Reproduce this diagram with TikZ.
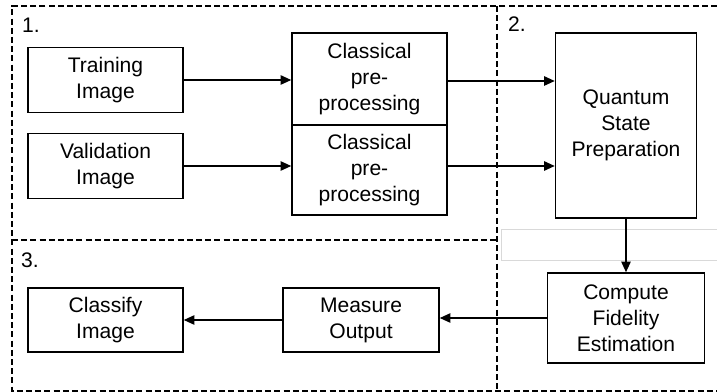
\documentclass[tikz,border=0pt]{standalone}
\usepackage{fontspec}
\setmainfont{Liberation Sans}
\usepackage{tikz}
\usetikzlibrary{arrows.meta}
\tikzset{
  blk/.style={draw, line width=1.1pt, align=center, inner sep=0pt},
  arr/.style={-{Triangle[length=8pt,width=7pt]}, line width=1.2pt},
  zone/.style={dashed, dash pattern=on 4.5pt off 2.4pt, line width=1.1pt}
}

\begin{document}
\begin{tikzpicture}[x=0.75pt,y=-0.75pt,font=\fontsize{15.8}{19.5}\selectfont]

\useasboundingbox (0,0) rectangle (717,392);

% dashed zones
\draw [zone] (717,6) -- (12,6) -- (12,391) -- (717,391);
\draw [zone] (497,6) -- (497,391);
\draw [zone] (12,240) -- (497,240);
\draw [gray!30, thin] (501,229) rectangle (720,260);

\node at (31,25) {1.};
\node at (517,24) {2.};
\node at (30,260) {3.};

% stage 1
\node [blk, minimum width=116.25pt, minimum height=48.75pt] (train) at (105.5,80) {Training\\Image};
\node [blk, minimum width=116.25pt, minimum height=48.75pt] (valid) at (105.5,166) {Validation\\Image};
\node [blk, minimum width=116.25pt, minimum height=69pt] (pre1) at (369.5,79) {Classical\\pre-\\processing};
\node [blk, minimum width=116.25pt, minimum height=67.5pt] (pre2) at (369.5,170) {Classical\\pre-\\processing};

% stage 2
\node [blk, minimum width=105.75pt, minimum height=138.75pt] (qsp) at (626,125.5) {Quantum\\State\\Preparation};
\node [blk, minimum width=117.75pt, minimum height=67.5pt] (cfe) at (626,318) {Compute\\Fidelity\\Estimation};

% stage 3
\node [blk, minimum width=117pt, minimum height=48pt] (meas) at (361,320) {Measure\\Output};
\node [blk, minimum width=116.25pt, minimum height=48pt] (cls) at (105.5,320) {Classify\\Image};

\draw [arr] (train.east) -- (train.east -| pre1.west);
\draw [arr] (valid.east) -- (valid.east -| pre2.west);
\draw [arr] ([yshift=-1.5pt]pre1.east) -- ([yshift=-1.5pt]pre1.east -| qsp.west);
\draw [arr] (valid.east -| pre2.east) -- (valid.east -| qsp.west);
\draw [arr] (qsp.south) -- (cfe.north);
\draw [arr] (cfe.west) -- (cfe.west -| meas.east);
\draw [arr] (meas.west) -- (cls.east);

\end{tikzpicture}
\end{document}
